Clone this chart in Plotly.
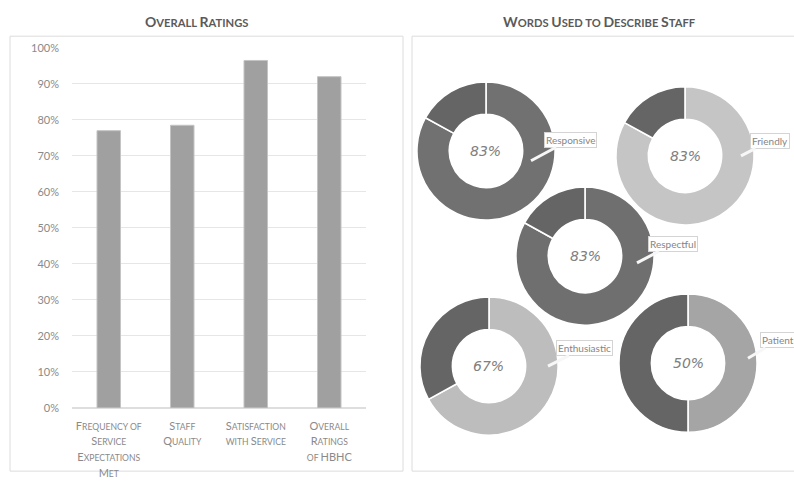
import plotly.graph_objects as go

# ---------------- data ----------------
categories = ["Frequency of Service Expectations Met", "Staff Quality",
              "Satisfaction with Service", "Overall Ratings of HBHC"]
tick_labels = ["Frequency of<br>Service<br>Expectations<br>Met", "Staff<br>Quality",
               "Satisfaction<br>with Service", "Overall<br>Ratings<br>of HBHC"]
ratings = [0.77, 0.785, 0.965, 0.92]

words = ["Responsive", "Friendly", "Respectful", "Enthusiastic", "Patient"]
word_pct = [83, 83, 83, 67, 50]

# ---------------- styles / layout ----------------
W, H = 794, 482
FONT = "Lato"
word_colors = ["#717171", "#c5c5c5", "#6f6f6f", "#bdbdbd", "#a5a5a5"]
rest_color = "#656565"
# donut centers (px) and callout tip / box centre (px)
donut_pos = [(486, 148), (685, 153), (585, 256), (489, 369), (688, 366)]
callout_tip = [(531, 158), (741, 153), (637, 263), (548, 369), (748, 361)]
callout_box = [(570, 137), (770, 138), (673, 244), (584, 351), (778, 343)]
R = 71


def smallcaps(s, big=11, small=8.6):
    out = []
    for line in s.split("<br>"):
        parts = []
        run, run_small = "", None
        for ch in line:
            is_small = ch.islower()
            if run_small is None or is_small == run_small or ch == " ":
                run += ch.upper()
                if run_small is None and ch != " ":
                    run_small = is_small
            else:
                parts.append((run, run_small))
                run, run_small = ch.upper(), is_small
        parts.append((run, run_small))
        seg = "".join(
            f"<span style='font-size:{small if sm else big}px'>{t}</span>" for t, sm in parts)
        out.append(seg)
    return "<br>".join(out)


def px(x):
    return x / W


def py(y):
    return 1 - y / H


fig = go.Figure()

fig.add_trace(go.Bar(
    x=categories, y=ratings, width=0.32,
    marker=dict(color="#a0a0a0", line=dict(color="#c4c4c4", width=1)),
    xaxis="x", yaxis="y", showlegend=False, hoverinfo="skip"))

for i, (w, p) in enumerate(zip(words, word_pct)):
    cx, cy = donut_pos[i]
    fig.add_trace(go.Pie(
        values=[p, 100 - p], labels=[w, "other"], hole=0.53, sort=False,
        direction="clockwise", rotation=0, textinfo="none", hoverinfo="skip",
        marker=dict(colors=[word_colors[i], rest_color],
                    line=dict(color="white", width=1.6)),
        domain=dict(x=[px(cx - R), px(cx + R)], y=[py(cy + R), py(cy - R)]),
        showlegend=False))

annotations = []
# titles
for tx, title in [(196, "Overall Ratings"), (599, "Words Used to Describe Staff")]:
    annotations.append(dict(x=px(tx), y=py(15), xref="paper", yref="paper", showarrow=False,
                            xanchor="center", yanchor="middle",
                            text="<b>" + smallcaps(title, 14, 11.2) + "</b>",
                            font=dict(family=FONT, size=14, color="#5a5a5a")))
for i, (w, p) in enumerate(zip(words, word_pct)):
    cx, cy = donut_pos[i]
    annotations.append(dict(x=px(cx), y=py(cy), xref="paper", yref="paper", showarrow=False,
                            xanchor="center", yanchor="middle",
                            text=f"{p}%", font=dict(family="DejaVu Sans", size=14,
                                                     color="#808080", style="italic")))
    tx, ty = callout_tip[i]
    bx, by = callout_box[i]
    annotations.append(dict(x=px(tx), y=py(ty), xref="paper", yref="paper",
                            showarrow=True, arrowhead=0, arrowwidth=3, arrowcolor="#f7f7f7",
                            ax=bx - tx, ay=by - ty, text=w,
                            bgcolor="white", bordercolor="#d4d4d4", borderwidth=1, borderpad=1,
                            font=dict(family=FONT, size=10, color="#858585")))

shapes = [
    dict(type="rect", xref="paper", yref="paper", x0=px(10), x1=px(403), y0=py(477), y1=py(30),
         line=dict(color="#dcdcdc", width=1), layer="below"),
    dict(type="rect", xref="paper", yref="paper", x0=px(412), x1=px(800), y0=py(477), y1=py(30),
         line=dict(color="#dcdcdc", width=1), layer="below"),
]

fig.update_layout(
    width=W, height=H, margin=dict(l=0, r=0, t=0, b=0),
    paper_bgcolor="white", plot_bgcolor="white",
    font=dict(family=FONT, color="#8a8a8a"),
    xaxis=dict(domain=[px(72), px(366)], tickvals=categories,
               ticktext=[smallcaps(t) for t in tick_labels],
               tickfont=dict(size=12, color="#8a8a8a"), showgrid=False, showline=False,
               ticks="", ticklabelstandoff=9),
    yaxis=dict(domain=[py(412), py(42)], range=[0, 1], dtick=0.1, tickformat=".0%",
               gridcolor="#e6e6e6", gridwidth=1, zeroline=True, zerolinecolor="#dedede",
               tickfont=dict(size=11, color="#8a8a8a"), ticks="", ticklabelstandoff=12),
    annotations=annotations, shapes=shapes,
)

fig.write_html("out.html")
